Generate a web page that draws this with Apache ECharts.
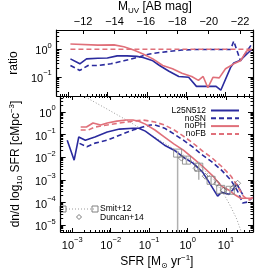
<!DOCTYPE html>
<html><head><meta charset="utf-8">
<script src="https://cdn.jsdelivr.net/npm/echarts@6/dist/echarts.min.js"></script>
<style>html,body{margin:0;padding:0;background:#fff}#c{width:269px;height:276px}</style>
</head><body><div id="c"></div>
<script>
// ---------- data (all values are log10) ----------
// bottom panel: log10 SFR vs log10 dn/dlog10SFR
const l25X = [-3.13,-2.95,-2.83,-2.66,-2.41,-2.09,-1.77,-1.42,-1.27,-1.10,-0.85,-0.60,-0.35,-0.11,0.14,0.39,0.56,0.78,0.88,1.08,1.28,1.43];
const l25Y = [-1.25,-2.13,-1.11,-1.25,-1.11,-0.89,-0.76,-0.72,-0.72,-0.85,-1.16,-1.47,-1.69,-2.00,-2.26,-2.66,-3.11,-3.72,-3.55,-3.64,-3.19,-3.64];
const noSNX = [-2.81,-2.62,-2.41,-2.09,-1.77,-1.42,-1.17,-0.97,-0.85,-0.60,-0.35,-0.11,0.14,0.39,0.64,0.88,1.13,1.30,1.43,1.55,1.70];
const noSNY = [-1.39,-1.54,-1.38,-1.25,-1.03,-0.80,-0.67,-0.58,-0.58,-0.72,-0.98,-1.25,-1.56,-1.91,-2.22,-2.57,-3.02,-3.50,-4.02,-3.98,-3.77];
const noPHX = [-2.78,-2.63,-2.46,-2.26,-2.09,-1.84,-1.59,-1.42,-1.27,-1.10,-0.85,-0.60,-0.35,-0.11,0.14,0.39,0.64,0.88,1.08,1.25,1.38,1.50,1.70];
const noPHY = [-0.67,-0.67,-0.49,-0.58,-0.49,-0.41,-0.36,-0.36,-0.41,-0.54,-0.80,-1.11,-1.42,-1.69,-2.04,-2.40,-2.80,-3.28,-3.46,-3.68,-3.81,-3.81,-3.81];
const noFBX = [-2.78,-2.58,-2.41,-2.09,-1.77,-1.42,-1.17,-0.97,-0.85,-0.60,-0.35,-0.11,0.14,0.39,0.64,0.88,1.13,1.30,1.45,1.58,1.70];
const noFBY = [-0.80,-0.80,-0.67,-0.58,-0.49,-0.41,-0.36,-0.41,-0.45,-0.58,-0.80,-1.07,-1.38,-1.73,-2.04,-2.40,-2.84,-3.28,-3.72,-3.90,-3.77];
// Smit+12 Schechter (dotted) and points
const smitFitX = [-2.66,-2.09,-1.59,-1.02,-0.48,0.02,0.39,0.69,0.96,1.13,1.28,1.40];
const smitFitY = [0.66,0.12,-0.36,-0.94,-1.51,-2.04,-2.49,-3.02,-3.68,-4.21,-4.74,-5.32];
const smitX = [-0.26,-0.03,0.29,0.61,0.86,1.11];
const smitY = [-1.82,-2.13,-2.44,-3.02,-3.42,-3.46];
const smitLo = [-6.0,-2.30,-3.00,-3.20,-3.60,-3.62];
const smitHi = [-1.72,-2.00,-2.20,-2.88,-3.28,-3.32];
const duncanX = [-0.16,0.22,0.46,0.76,0.93,1.20,1.30];
const duncanY = [-2.04,-2.49,-2.84,-3.15,-3.46,-3.33,-3.15];
// top panel: log10 ratio to noFB
const rL25X = [-2.95,-2.71,-2.54,-2.25,-2.01,-1.76,-1.51,-1.26,-1.10,-0.85,-0.68,-0.44,-0.19,0.06,0.26,0.55,0.76,0.88,1.13,1.21,1.38,1.67];
const rL25Y = [-0.35,-0.53,-0.35,-0.33,-0.32,-0.24,-0.24,-0.26,-0.30,-0.42,-0.59,-0.80,-0.99,-1.02,-1.35,-1.35,-1.35,-1.49,-0.66,-0.50,-0.40,0.0];
const rNoSNX = [-2.95,-2.71,-2.50,-2.25,-1.92,-1.59,-1.26,-0.93,-0.68,-0.44,-0.11,0.22,0.55,0.88,1.13,1.21,1.38,1.67];
const rNoSNY = [-0.59,-0.77,-0.59,-0.59,-0.53,-0.42,-0.30,-0.17,-0.12,-0.08,-0.03,-0.01,-0.01,-0.01,-0.01,0.30,-0.42,0.19];
const rNoPHX = [-2.95,-2.25,-1.84,-1.59,-1.34,-1.10,-0.85,-0.60,-0.35,-0.11,0.14,0.31,0.43,0.55,0.68,0.84,1.00,1.21,1.38,1.54,1.67];
const rNoPHY = [0.19,0.15,0.16,0.09,-0.03,-0.17,-0.35,-0.59,-0.71,-0.87,-0.99,-1.13,-0.99,-1.40,-1.02,-1.04,-0.71,-0.53,-0.42,-0.06,0.0];
const rNoFBX = [-2.95,1.70];
const rNoFBY = [0,0];
// axis tick values
const sfrTicks = [-3,-2,-1,0,1];
const muvTicks = [-22,-20,-18,-16,-14,-12];
const ratioTicks = [-1,0];
const phiTicks = [-5,-4,-3,-2,-1,0];

// ---------- layout / style ----------
const X_MIN=-3.3, X_MAX=1.7, R_MIN=-1.7, R_MAX=0.7, P_MIN=-5.3, P_MAX=0.7;
const MUV_MIN=-22.82, MUV_MAX=-10.32;
const F='Liberation Sans';
const BLUE='#2b2b9e', RED='#e0707a', GREY='#9a9a9a';
function minors(a,b){const o=[];for(let n=Math.floor(a)-1;n<=Math.ceil(b);n++)for(let k=2;k<10;k++){const v=n+Math.log10(k);if(v>a&&v<b)o.push(v);}return o;}
const pow = v => '{b|10}{s|'+(v<0?'\u2212'+(-v):v)+'}';
const richL = {b:{fontSize:11,fontFamily:F,color:'#000',verticalAlign:'bottom',lineHeight:15},
               s:{fontSize:7.5,fontFamily:F,color:'#000',verticalAlign:'top',lineHeight:15}};
function axis(o){
  const a = {type:'value', splitLine:{show:false},
    axisLine:{show:!!o.line,onZero:false,lineStyle:{color:'#000',width:1.2}},
    axisTick:{show:!!o.ticks,inside:true,length:o.len||4,customValues:o.ticks,lineStyle:{color:'#000',width:1}},
    axisLabel:{show:!!o.labels,customValues:o.labels,formatter:o.fmt||pow,rich:richL,margin:o.margin||5,fontSize:11,fontFamily:F,color:'#000'}};
  ['gridIndex','position','min','max','inverse','name','nameLocation','nameGap','nameRotate','nameTextStyle'].forEach(k=>{if(o[k]!==undefined)a[k]=o[k];});
  return a;
}
const nameRich = {n:{fontSize:12,fontFamily:F,color:'#000'},sub:{fontSize:8,fontFamily:F,color:'#000',verticalAlign:'bottom',lineHeight:16},
  sup:{fontSize:8,fontFamily:F,color:'#000',verticalAlign:'top',lineHeight:16},sun:{fontSize:8,fontFamily:'DejaVu Sans',color:'#000',verticalAlign:'bottom',lineHeight:16}};

const xAxis = [
  axis({gridIndex:0,position:'bottom',min:X_MIN,max:X_MAX,line:1,ticks:sfrTicks,len:4}),
  axis({gridIndex:0,position:'bottom',min:X_MIN,max:X_MAX,ticks:minors(X_MIN,X_MAX),len:2}),
  axis({gridIndex:0,position:'top',min:MUV_MIN,max:MUV_MAX,inverse:true,line:1,ticks:muvTicks,labels:muvTicks,len:4,margin:3,
        fmt:v=>'\u2212'+Math.abs(v),name:'{n|M}{sub|UV}{n| [AB mag]}',nameLocation:'middle',nameGap:15,nameTextStyle:{rich:nameRich}}),
  axis({gridIndex:1,position:'bottom',min:X_MIN,max:X_MAX,line:1,ticks:sfrTicks,labels:sfrTicks,len:4,margin:4,
        name:'{n|SFR [M}{sun|\u2299}{n| yr}{sup|\u22121}{n|]}',nameLocation:'middle',nameGap:22,nameTextStyle:{rich:nameRich}}),
  axis({gridIndex:1,position:'bottom',min:X_MIN,max:X_MAX,ticks:minors(X_MIN,X_MAX),len:2}),
  axis({gridIndex:1,position:'top',min:X_MIN,max:X_MAX,line:1,ticks:sfrTicks,len:4}),
  axis({gridIndex:1,position:'top',min:X_MIN,max:X_MAX,ticks:minors(X_MIN,X_MAX),len:2})
];
const yAxis = [
  axis({gridIndex:0,position:'left',min:R_MIN,max:R_MAX,line:1,ticks:ratioTicks,labels:ratioTicks,len:5,
        name:'ratio',nameLocation:'middle',nameGap:34,nameTextStyle:{fontSize:12,fontFamily:F,color:'#000'}}),
  axis({gridIndex:0,position:'left',min:R_MIN,max:R_MAX,ticks:minors(R_MIN,R_MAX),len:2.5}),
  axis({gridIndex:0,position:'right',min:R_MIN,max:R_MAX,line:1,ticks:ratioTicks,len:5}),
  axis({gridIndex:0,position:'right',min:R_MIN,max:R_MAX,ticks:minors(R_MIN,R_MAX),len:2.5}),
  axis({gridIndex:1,position:'left',min:P_MIN,max:P_MAX,line:1,ticks:phiTicks,labels:phiTicks,len:5,
        name:'{n|dn/d log}{sub|10}{n| SFR [cMpc}{sup|\u22123}{n|]}',nameLocation:'middle',nameGap:36,nameTextStyle:{rich:nameRich}}),
  axis({gridIndex:1,position:'left',min:P_MIN,max:P_MAX,ticks:minors(P_MIN,P_MAX),len:2.5}),
  axis({gridIndex:1,position:'right',min:P_MIN,max:P_MAX,line:1,ticks:phiTicks,len:5}),
  axis({gridIndex:1,position:'right',min:P_MIN,max:P_MAX,ticks:minors(P_MIN,P_MAX),len:2.5})
];
const zip = (a,b) => a.map((v,i)=>[v,b[i]]);
function line(name,xs,ys,color,dash,top){
  return {name:name,type:'line',xAxisIndex:top?0:3,yAxisIndex:top?0:4,data:zip(xs,ys),symbol:'none',
    lineStyle:{color:color,width:1.6,type:dash?[5,3]:'solid'},itemStyle:{color:color},clip:true,z:3};
}
const series = [
  line('L25N512',l25X,l25Y,BLUE,false), line('noSN',noSNX,noSNY,BLUE,true),
  line('noPH',noPHX,noPHY,RED,false), line('noFB',noFBX,noFBY,RED,true),
  line('rL25',rL25X,rL25Y,BLUE,false,1), line('rnoSN',rNoSNX,rNoSNY,BLUE,true,1),
  line('rnoPH',rNoPHX,rNoPHY,RED,false,1), line('rnoFB',rNoFBX,rNoFBY,RED,true,1),
  {type:'line',xAxisIndex:3,yAxisIndex:4,data:zip(smitFitX,smitFitY),symbol:'none',clip:true,
   lineStyle:{color:GREY,width:1,type:[1,2]},z:2},
  {type:'custom',xAxisIndex:3,yAxisIndex:4,data:smitX.map((v,i)=>[v,smitLo[i],smitHi[i]]),clip:true,z:4,
   renderItem:(p,api)=>{const a=api.coord([api.value(0),api.value(1)]),b=api.coord([api.value(0),api.value(2)]);
     return {type:'line',shape:{x1:a[0],y1:a[1],x2:b[0],y2:b[1]},style:{stroke:'#b0b0b0',lineWidth:1.5}};}},
  {type:'scatter',xAxisIndex:3,yAxisIndex:4,data:zip(smitX,smitY),symbol:'rect',symbolSize:8,z:5,
   itemStyle:{color:'rgba(0,0,0,0)',borderColor:'#808080',borderWidth:1}},
  {type:'scatter',xAxisIndex:3,yAxisIndex:4,data:zip(duncanX,duncanY),symbol:'diamond',symbolSize:6,z:5,
   itemStyle:{color:'rgba(0,0,0,0)',borderColor:'#555',borderWidth:0.8}}
];
const legNames=['L25N512','noSN','noPH','noFB'];
const legend = legNames.map((n,i)=>({data:[n],right:29,top:106+i*7.8,itemWidth:28,itemHeight:8,align:'right',itemGap:2,
  padding:0,itemStyle:{opacity:0},textStyle:{fontSize:8.5,fontFamily:F,color:'#000',padding:[0,0,0,0]}}));
const graphic = [
  {type:'line',shape:{x1:63,y1:209,x2:95,y2:209},style:{stroke:GREY,lineWidth:1,lineDash:[1,2]}},
  {type:'rect',shape:{x:60,y:206,width:6,height:6},style:{fill:'none',stroke:'#808080',lineWidth:1}},
  {type:'rect',shape:{x:92,y:206,width:6,height:6},style:{fill:'none',stroke:'#808080',lineWidth:1}},
  {type:'text',x:100,y:209,style:{text:'Smit+12',fontSize:8.5,fontFamily:F,fill:'#000',verticalAlign:'middle'}},
  {type:'polygon',shape:{points:[[79,214.5],[81.5,217],[79,219.5],[76.5,217]]},style:{fill:'none',stroke:'#555',lineWidth:0.8}},
  {type:'text',x:100,y:217.5,style:{text:'Duncan+14',fontSize:8.5,fontFamily:F,fill:'#000',verticalAlign:'middle'}}
];
const chart = echarts.init(document.getElementById('c'),null,{renderer:'canvas'});
chart.setOption({animation:false,backgroundColor:'#fff',
  grid:[{left:51,top:29,width:202,height:67},{left:51,top:96,width:202,height:136}],
  xAxis:xAxis,yAxis:yAxis,series:series,legend:legend,graphic:graphic});
</script></body></html>
